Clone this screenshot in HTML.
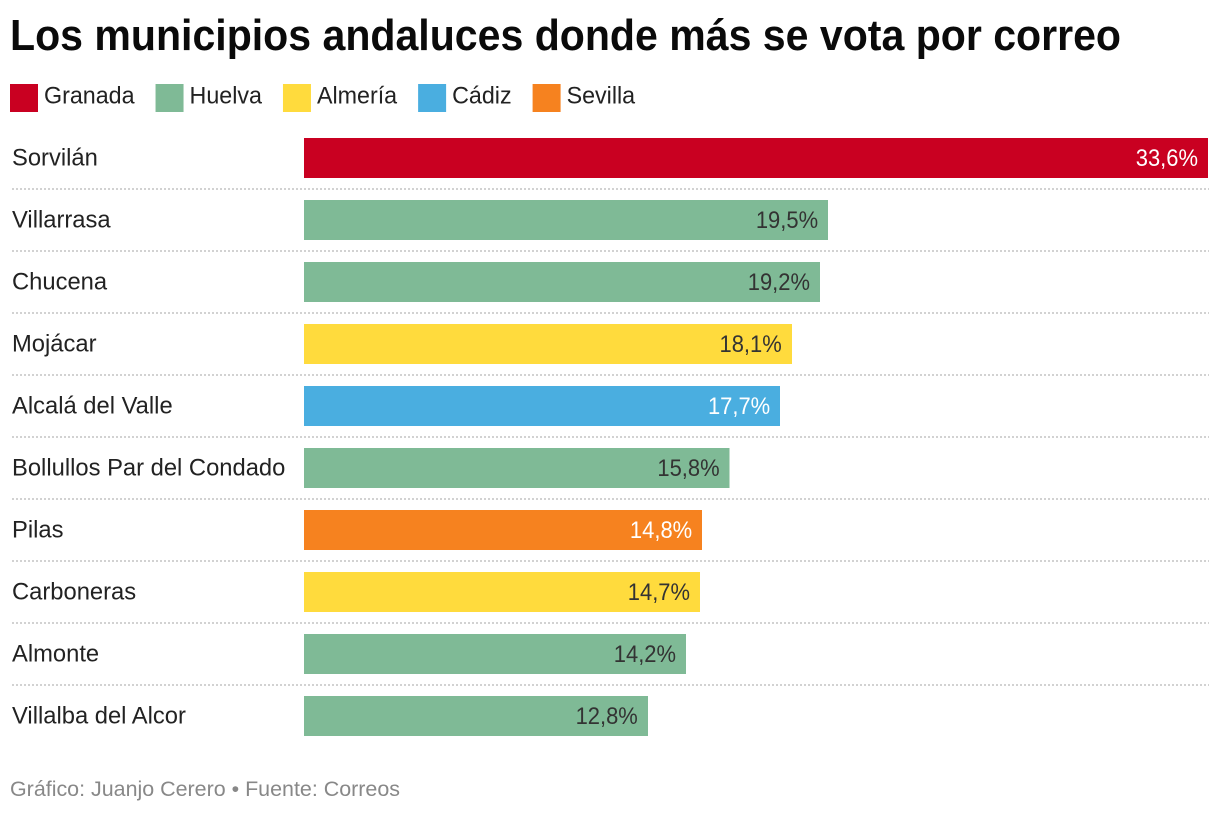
<!DOCTYPE html>
<html lang="es">
<head>
<meta charset="utf-8">
<title>Los municipios andaluces donde más se vota por correo</title>
<style>
html,body{margin:0;padding:0;background:#fff;width:1220px;height:814px;overflow:hidden}
svg{display:block}
text{font-family:"Liberation Sans",sans-serif}
</style>
</head>
<body>
<svg id="chart" width="1220" height="814" viewBox="0 0 1220 814" xmlns="http://www.w3.org/2000/svg">
<text x="10" y="50" font-size="44" font-weight="700" fill="#0a0a0a" textLength="1111" lengthAdjust="spacingAndGlyphs">Los municipios andaluces donde más se vota por correo</text>
<g id="legend"></g>
<g id="rows"></g>
<text x="10" y="796" font-size="21" fill="#888888" textLength="390" lengthAdjust="spacingAndGlyphs">Gráfico: Juanjo Cerero • Fuente: Correos</text>
</svg>
<script>
var municipalities = ["Sorvilán","Villarrasa","Chucena","Mojácar","Alcalá del Valle","Bollullos Par del Condado","Pilas","Carboneras","Almonte","Villalba del Alcor"];
var values = [33.6,19.48,19.18,18.13,17.7,15.82,14.8,14.72,14.2,12.78];
var rowProvinces = ["Granada","Huelva","Huelva","Almería","Cádiz","Huelva","Sevilla","Almería","Huelva","Huelva"];
var provinces = ["Granada","Huelva","Almería","Cádiz","Sevilla"];
var provinceColors = ["#c90021","#7fba96","#ffdb3d","#4aaee0","#f6821f"];
var provinceTextColors = ["#ffffff","#333333","#333333","#ffffff","#ffffff"];

var NS = "http://www.w3.org/2000/svg";
function make(tag, attrs, parent, content){
  var el = document.createElementNS(NS, tag);
  for (var k in attrs) el.setAttribute(k, attrs[k]);
  if (content !== undefined) el.textContent = content;
  parent.appendChild(el);
  return el;
}
function slug(s){
  return s.toLowerCase().normalize("NFD").replace(/[\u0300-\u036f]/g,"").replace(/\s+/g,"-");
}
var barLeft = 304, barRight = 1208, maxValue = 33.6;
function xScale(v){ return barLeft + (v / maxValue) * (barRight - barLeft); }
function rowTop(i){ return 138 + i * 62; }
var labelWidthFactor = 0.99;
var legendWidthFactor = 0.97;
var valueWidthFactor = 0.915;
function fit(el, anchorX, factor){
  el.setAttribute("transform", "translate(" + anchorX + " 0) scale(" + factor + " 1) translate(" + (-anchorX) + " 0)");
}

var legend = document.getElementById("legend");
var legendX = 10;
provinces.forEach(function(p, i){
  var sw = make("rect", {x: legendX, y: 84, width: 28, height: 28, fill: provinceColors[i]}, legend);
  
  
  var tx = make("text", {x: legendX + 34, y: 103.5, "font-size": 24, fill: "#222222"}, legend, p);
  
  
  fit(tx, legendX + 34, legendWidthFactor);
  legendX += 34 + tx.getComputedTextLength() * legendWidthFactor + 21;
});

var rows = document.getElementById("rows");
municipalities.forEach(function(name, i){
  var top = rowTop(i);
  var idx = provinces.indexOf(rowProvinces[i]);
  var end = xScale(values[i]);

  var lab = make("text", {x: 12, y: top + 27.5, "font-size": 24, fill: "#222222"}, rows, name);
  
  
  fit(lab, 12, labelWidthFactor);

  var bar = make("rect", {x: barLeft, y: top, width: end - barLeft, height: 40, fill: provinceColors[idx], "shape-rendering": "crispEdges"}, rows);
  
  

  var val = make("text", {x: end - 10, y: top + 28, "font-size": 24, "text-anchor": "end", fill: provinceTextColors[idx]}, rows, values[i].toFixed(1).replace(".", ",") + "%");
  
  
  fit(val, end - 10, valueWidthFactor);

  if (i < municipalities.length - 1) {
    var line = make("line", {x1: 12, x2: barRight + 1, y1: top + 51, y2: top + 51, stroke: "#d2d2d2", "stroke-width": 2, "stroke-dasharray": "2 2"}, rows);
    
    
  }
});
</script>
</body>
</html>
